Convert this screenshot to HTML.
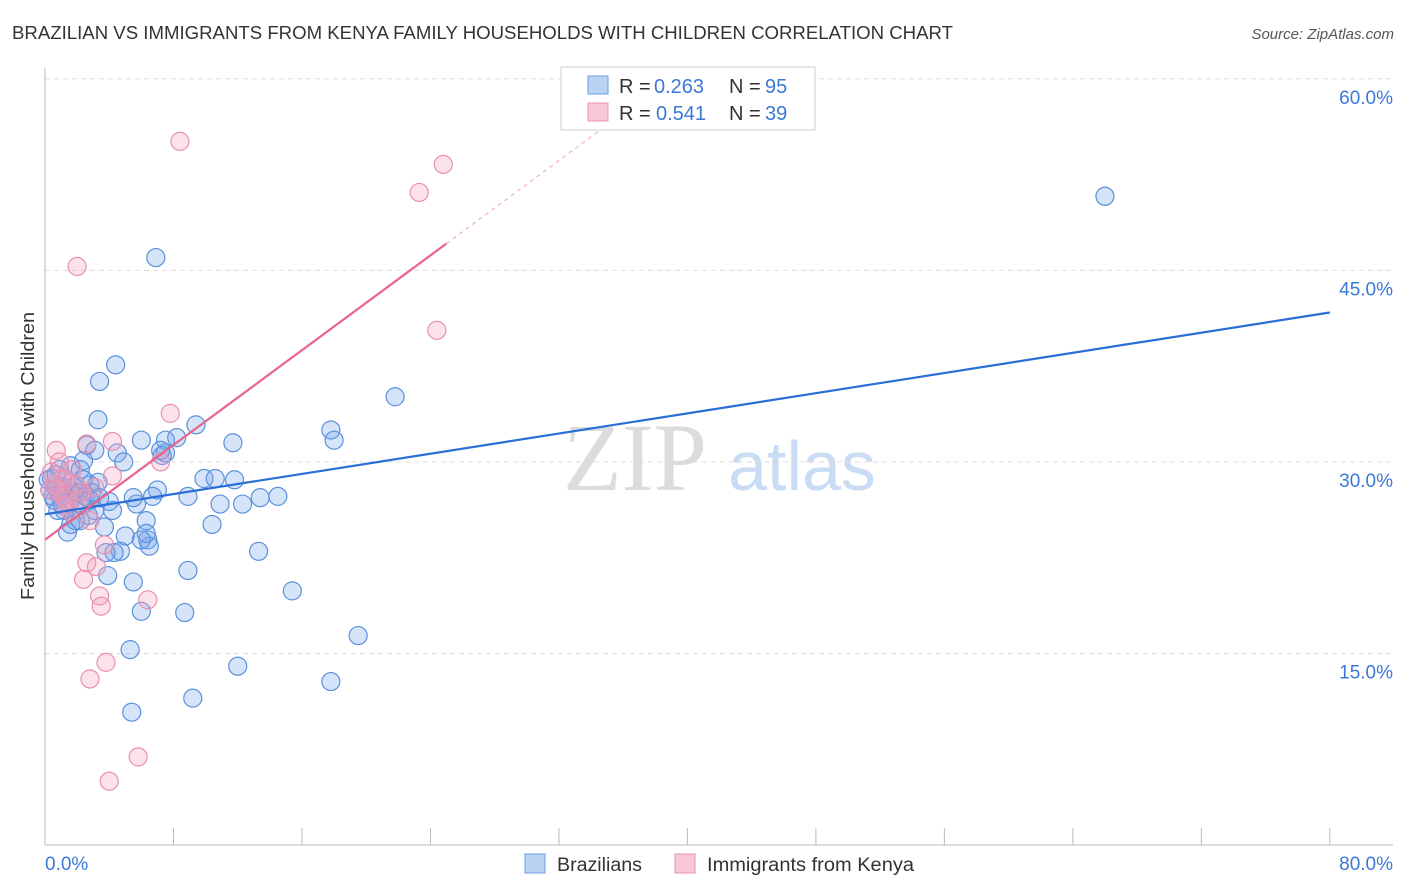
<!DOCTYPE html>
<html><head><meta charset="utf-8"><style>
body{margin:0;background:#fff;font-family:"Liberation Sans",sans-serif}
svg{display:block}
</style></head><body>
<svg width="1406" height="892" xmlns="http://www.w3.org/2000/svg">
<text x="12" y="39" font-size="18" fill="#333" textLength="941" lengthAdjust="spacingAndGlyphs">BRAZILIAN VS IMMIGRANTS FROM KENYA FAMILY HOUSEHOLDS WITH CHILDREN CORRELATION CHART</text>
<text x="1394" y="39" font-size="15" fill="#555" font-style="italic" text-anchor="end">Source: ZipAtlas.com</text>
<g>
<text x="635" y="490" font-size="96" fill="#dcdcdc" font-family="Liberation Serif,serif" text-anchor="middle">ZIP</text>
<text x="802" y="490" font-size="70" fill="#c9dcf3" text-anchor="middle">atlas</text>
</g>
<g id="grid"></g>
<line x1="45" y1="68" x2="45" y2="845" stroke="#bbb"/>
<line x1="45" y1="845" x2="1393" y2="845" stroke="#bbb"/>
<g id="xticks"></g>
<text x="45" y="870" font-size="19" fill="#3b78d8">0.0%</text>
<text x="1393" y="870" font-size="19" fill="#3b78d8" text-anchor="end">80.0%</text>
<text transform="translate(34,456) rotate(-90)" font-size="18" fill="#333" text-anchor="middle" textLength="288" lengthAdjust="spacingAndGlyphs">Family Households with Children</text>
<g id="pts"></g>
<g id="lines"></g>
<g>
<rect x="561" y="67" width="254" height="63" fill="#fff" stroke="#ccc"/>
<rect x="588" y="76" width="20" height="18" fill="#b9d3f5" stroke="#6d9fe0"/>
<rect x="588" y="103" width="20" height="18" fill="#f8c8d6" stroke="#e895b2"/>
<text x="619" y="93" font-size="20" fill="#333">R =</text>
<text x="654" y="93" font-size="20" fill="#3b78d8">0.263</text>
<text x="729" y="93" font-size="20" fill="#333">N =</text>
<text x="765" y="93" font-size="20" fill="#3b78d8">95</text>
<text x="619" y="120" font-size="20" fill="#333">R =</text>
<text x="656" y="120" font-size="20" fill="#3b78d8">0.541</text>
<text x="729" y="120" font-size="20" fill="#333">N =</text>
<text x="765" y="120" font-size="20" fill="#3b78d8">39</text>
</g>
<g>
<rect x="525" y="854" width="20" height="19" fill="#b9d3f5" stroke="#6d9fe0"/>
<text x="557" y="871" font-size="19" fill="#333" textLength="85" lengthAdjust="spacingAndGlyphs">Brazilians</text>
<rect x="675" y="854" width="20" height="19" fill="#f8c8d6" stroke="#e895b2"/>
<text x="707" y="871" font-size="19" fill="#333" textLength="207" lengthAdjust="spacingAndGlyphs">Immigrants from Kenya</text>
</g>
</svg>
<script>
const yTicks=[15,30,45,60];
const yTickLabels=["15.0%","30.0%","45.0%","60.0%"];
const xTicks=[8,16,24,32,40,48,56,64,72,80];
const blueX=[66.0,6.9,4.4,3.4,3.3,21.8,17.8,18.0,9.4,8.2,7.5,6.0,7.3,7.5,11.7,2.6,3.1,4.5,4.9,1.6,2.4,9.9,10.6,11.8,14.5,13.4,8.9,7.0,6.7,5.7,4.0,4.2,12.3,10.9,10.4,6.3,3.7,1.4,1.6,2.2,1.9,2.8,3.3,1.1,0.6,0.3,0.4,0.9,6.4,6.5,5.0,4.7,4.3,3.8,3.9,5.5,8.9,13.3,15.4,8.7,6.0,19.5,5.3,12.0,17.8,9.2,5.4,0.9,1.2,1.7,2.1,2.5,3.1,2.7,1.9,0.7,0.2,0.5,1.3,2.2,2.9,3.4,6.3,5.5,6.0,7.2,1.6,0.8,2.3,1.2,2.8,0.7,1.1,1.8,2.4];
const blueY=[50.8,46.0,37.6,36.3,33.3,35.1,32.5,31.7,32.9,31.9,31.7,31.7,30.5,30.7,31.5,31.3,30.9,30.7,30.0,29.7,30.1,28.7,28.7,28.6,27.3,27.2,27.3,27.8,27.3,26.7,26.9,26.2,26.7,26.7,25.1,25.4,24.9,24.5,25.1,25.4,28.2,28.2,28.4,26.6,27.0,27.8,28.7,29.4,23.9,23.4,24.2,23.0,22.9,22.9,21.1,20.6,21.5,23.0,19.9,18.2,18.3,16.4,15.3,14.0,12.8,11.5,10.4,27.4,27.8,27.4,27.6,27.3,26.2,25.8,25.4,28.0,28.6,27.3,28.6,29.4,27.6,27.2,24.4,27.2,23.9,30.9,27.0,26.2,26.6,26.2,27.0,29.0,28.0,28.0,28.6];
const pinkX=[8.4,24.8,23.3,2.0,24.4,7.8,0.7,4.2,2.6,1.7,0.9,1.3,0.6,0.3,1.1,1.4,0.8,1.9,2.3,4.2,7.2,3.7,2.6,3.2,2.4,3.4,3.5,6.4,3.8,2.8,5.8,4.0,1.6,2.8,1.1,0.4,2.1,3.1,1.2];
const pinkY=[55.1,53.3,51.1,45.3,40.3,33.8,30.9,31.6,31.4,29.4,30.0,28.6,28.2,27.8,27.3,27.0,27.8,28.2,27.6,28.9,30.0,23.5,22.1,21.8,20.8,19.5,18.7,19.2,14.3,13.0,6.9,5.0,26.1,25.4,28.7,29.2,27.0,28.0,26.6];
const blueTrend=[25.9,41.7];
const pinkTrend=[23.9,0.928];
const NS="http://www.w3.org/2000/svg";
const sx=v=>45+v*16.06, sy=v=>845-v*12.77;
function mk(t,a,p){const e=document.createElementNS(NS,t);for(const k in a)e.setAttribute(k,a[k]);p.appendChild(e);return e;}
const grid=document.getElementById('grid');
yTicks.forEach((t,i)=>{
 const l=mk('line',{x1:45,x2:1393,y1:sy(t),y2:sy(t),stroke:'#ddd','stroke-dasharray':'5,4'},grid);
 
 
 const tx=mk('text',{x:1393,y:sy(t)+25,'font-size':19,fill:'#3b78d8','text-anchor':'end'},grid);
 tx.textContent=yTickLabels[i];
 
 
});
const xt=document.getElementById('xticks');
xTicks.forEach(t=>{
 const l=mk('line',{x1:sx(t),x2:sx(t),y1:845,y2:828,stroke:'#bbb'},xt);
 
 
});
const pts=document.getElementById('pts');
blueX.forEach((x,i)=>{
 const c=mk('circle',{cx:sx(x),cy:sy(blueY[i]),r:9,fill:'rgba(120,165,235,0.3)',stroke:'#5a90dc','stroke-width':1.2},pts);
 
 
});
pinkX.forEach((x,i)=>{
 const c=mk('circle',{cx:sx(x),cy:sy(pinkY[i]),r:9,fill:'rgba(245,160,190,0.3)',stroke:'#e890ae','stroke-width':1.2},pts);
 
 
});
const ln=document.getElementById('lines');
const b=mk('line',{x1:sx(0),y1:sy(blueTrend[0]),x2:sx(80),y2:sy(blueTrend[1]),stroke:'#2a6fd6','stroke-width':2.2},ln);


const p=mk('line',{x1:sx(0),y1:sy(pinkTrend[0]),x2:sx(25),y2:sy(pinkTrend[0]+pinkTrend[1]*25),stroke:'#e8638e','stroke-width':2.2},ln);


const pd=mk('line',{x1:sx(25),y1:sy(pinkTrend[0]+pinkTrend[1]*25),x2:sx(34.6),y2:sy(pinkTrend[0]+pinkTrend[1]*34.6),stroke:'#e8a0b8','stroke-width':1,'stroke-dasharray':'4,4'},ln);


</script>
</body></html>
